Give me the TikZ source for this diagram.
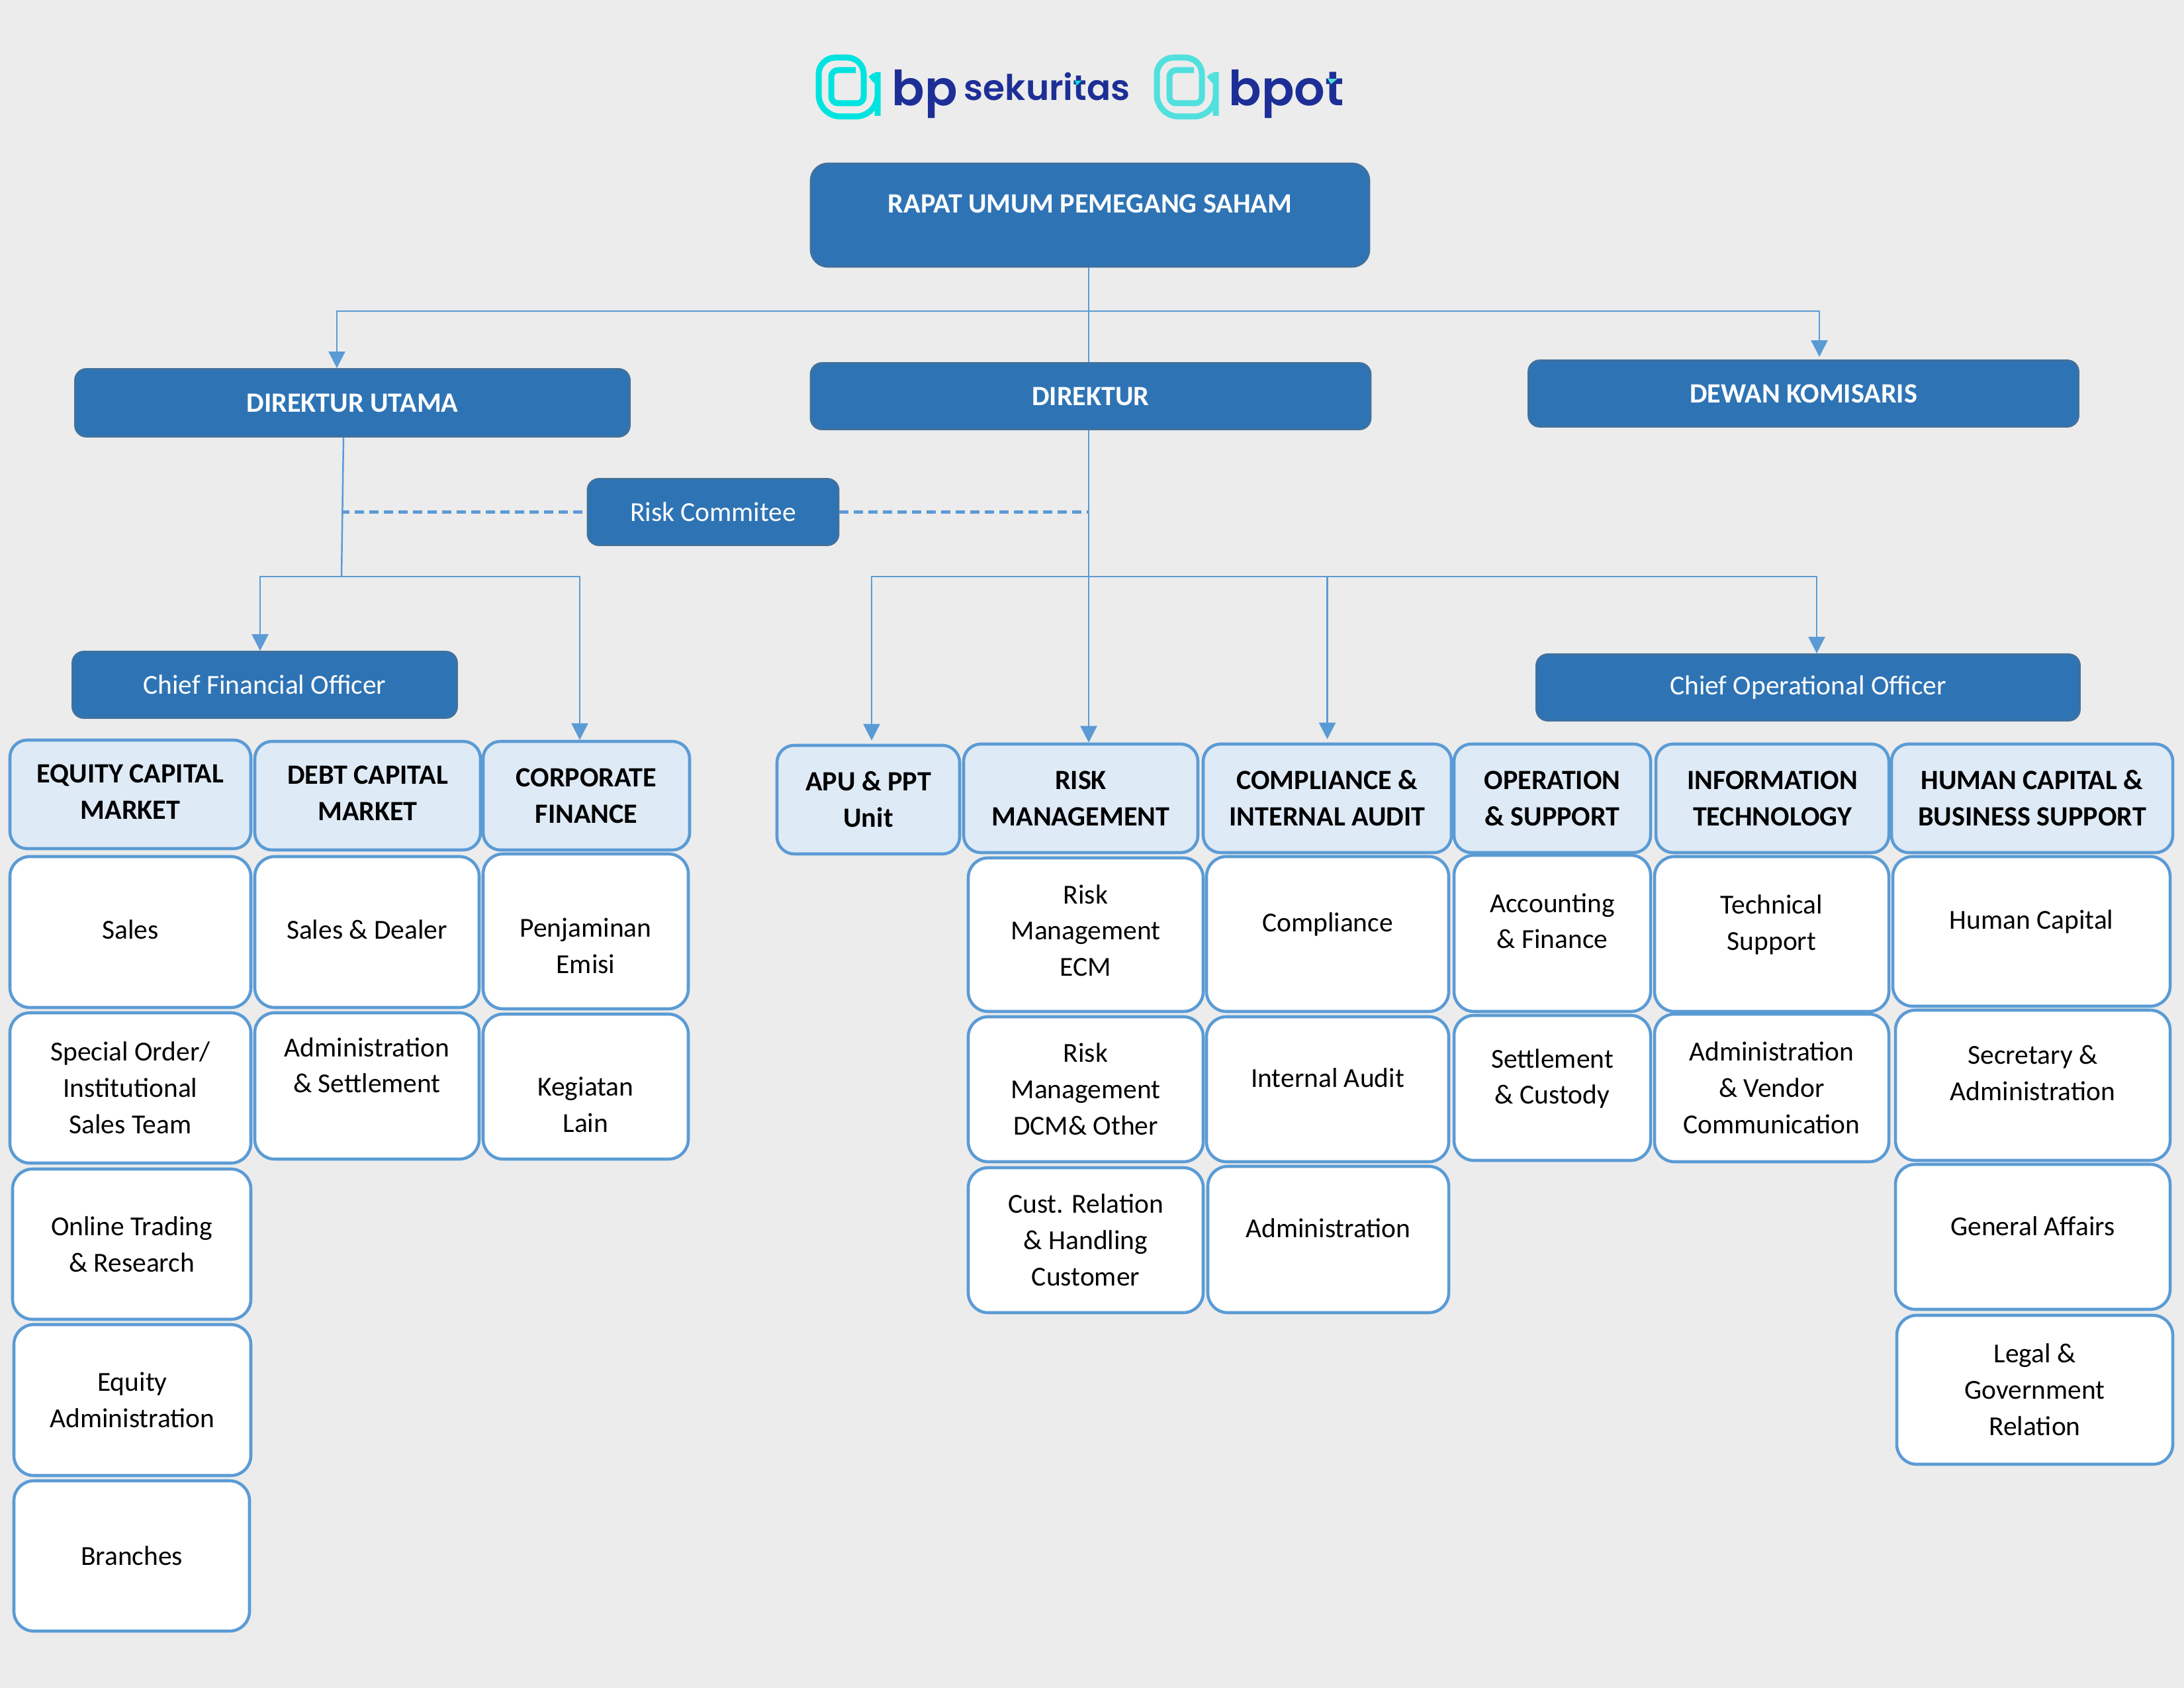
\documentclass[tikz,border=0pt]{standalone}
\usepackage{fontspec}
\setmainfont{Carlito}
\newfontfamily\logofont{Poppins}[UprightFont=* SemiBold]
\definecolor{orgblue}{HTML}{2E74B5}
\definecolor{orgedge}{HTML}{41719C}
\definecolor{orgline}{HTML}{5B9BD5}
\definecolor{orglight}{HTML}{DEEAF6}
\definecolor{orgpage}{HTML}{ECECEC}
\definecolor{logonavy}{HTML}{1D2F96}
\definecolor{logoteal}{HTML}{00E3DF}
\definecolor{logosoft}{HTML}{50E0DE}
\usepackage{tikz}
\usetikzlibrary{arrows.meta, positioning}

\begin{document}
\begin{tikzpicture}[
        x=1cm, y=-1cm,
        orgfont/.style={font=\fontsize{11.8}{15.6}\selectfont, align=center, inner sep=1pt},
        size/.style 2 args={minimum width=#1cm, minimum height=#2cm},
        lead/.style={rectangle, rounded corners=0.17cm, fill=orgblue, draw=orgedge,
                     line width=0.8pt, text=white, orgfont},
        leadbold/.style={lead, font=\fontsize{12}{15.6}\selectfont\bfseries},
        head/.style={rectangle, rounded corners=0.26cm, fill=orglight, draw=orgline,
                     line width=1.3pt, orgfont, font=\fontsize{12}{15.6}\selectfont\bfseries},
        unit/.style={rectangle, rounded corners=0.3cm, fill=white, draw=orgline,
                     line width=1.3pt, orgfont},
        link/.style={orgline, line width=0.7pt},
        arrowlink/.style={link, -{Triangle[length=0.25cm, width=0.25cm]}},
        dashlink/.style={orgline, line width=1.3pt, dash pattern=on 0.14cm off 0.08cm},
        logotext/.style={anchor=base west, inner sep=0pt, text=logonavy},
        logomark/.pic={
          \draw[line width=0.09cm, line cap=butt, rounded corners=0.1cm]
            (0.73,0.36) -- (0.36,0.36) -- (0.36,0.86) -- (0.85,0.86)
            [rounded corners=0.25cm] -- (0.85,0.17) -- (0.17,0.17)
            [rounded corners=0.33cm] -- (0.17,1.06) -- (1.06,1.06) -- (1.06,0.72)
            [sharp corners] .. controls (1.06,0.6) and (1.02,0.5) .. (0.96,0.43);
        }
      ]
        \fill[orgpage] (0,0) rectangle (33,25.5);
        % Logos
        \pic[logoteal] at (12.2,0.7) {logomark};
        \pic[logosoft] at (17.31,0.7) {logomark};
        \node[logotext, font=\logofont\fontsize{20.8}{24}\selectfont] (bpword) at (13.47,1.6) {bp};
        \node[logotext, font=\logofont\fontsize{15.2}{18}\selectfont] (sekword) at (14.56,1.52) {sekuritas};
        \node[logotext, font=\logofont\fontsize{20.8}{24}\selectfont] (bpotword) at (18.56,1.6) {bpot};
        \fill[logoteal] (16.24,1.22) -- (16.34,1.22) -- (16.27,1.29) -- cycle;
        \fill[logosoft] (20.06,1.19) -- (20.21,1.19) -- (20.11,1.27) -- cycle;
        % Top levels
        \node[lead, rounded corners=0.26cm, font=\fontsize{12}{15.6}\selectfont\bfseries, size={8.44}{1.56}] (rups) at (16.47,3.25)
          {RAPAT UMUM PEMEGANG SAHAM\\[-0.2cm]\mbox{}};
        \node[leadbold, size={8.38}{1.02}] (dirut) at (5.325,6.085) {DIREKTUR UTAMA};
        \node[leadbold, size={8.46}{1.0}] (direktur) at (16.48,5.985) {DIREKTUR};
        \node[leadbold, size={8.31}{1.0}] (dewan) at (27.25,5.945) {DEWAN KOMISARIS};
        \node[lead, size={3.79}{1.0}] (riskcom) at (10.775,7.735) {Risk Commitee};
        \node[lead, size={5.81}{1.0}] (cfo) at (4.0,10.345) {Chief Financial Officer};
        \node[lead, size={8.21}{1.0}] (coo) at (27.32,10.385) {Chief Operational Officer};
        % Division heads
        \node[head, size={3.64}{1.64}] (ecm) at (1.97,12.0) {EQUITY CAPITAL\\MARKET\\[-0.47cm]\mbox{}};
        \node[head, size={3.41}{1.64}] (dcm) at (5.555,12.02) {DEBT CAPITAL\\MARKET\\[-0.47cm]\mbox{}};
        \node[head, size={3.12}{1.64}] (corfin) at (8.86,12.02) {CORPORATE\\FINANCE};
        \node[head, size={2.76}{1.64}] (apu) at (13.12,12.08) {APU \& PPT\\Unit};
        \node[head, size={3.54}{1.64}] (riskmgmt) at (16.33,12.06) {RISK\\MANAGEMENT};
        \node[head, size={3.75}{1.64}] (compaudit) at (20.055,12.06) {COMPLIANCE \&\\INTERNAL AUDIT};
        \node[head, size={2.97}{1.64}] (ops) at (23.455,12.06) {OPERATION\\\& SUPPORT};
        \node[head, size={3.52}{1.64}] (infotech) at (26.78,12.06) {INFORMATION\\TECHNOLOGY};
        \node[head, size={4.25}{1.64}] (humancap) at (30.705,12.06) {HUMAN CAPITAL \&\\BUSINESS SUPPORT};
        % Equity capital market
        \node[unit, size={3.64}{2.28}] (sales) at (1.97,14.08) {Sales\\[-0.47cm]\mbox{}};
        \node[unit, size={3.64}{2.27}] (special) at (1.97,16.435) {Special Order/\\Institutional\\Sales Team};
        \node[unit, size={3.6}{2.27}] (online) at (1.99,18.795) {Online Trading\\\& Research};
        \node[unit, size={3.58}{2.28}] (equityadm) at (2.0,21.15) {Equity\\Administration};
        \node[unit, size={3.56}{2.27}] (branches) at (1.99,23.505) {Branches};
        % Debt capital market
        \node[unit, size={3.39}{2.28}] (dealer) at (5.545,14.08) {Sales \& Dealer\\[-0.47cm]\mbox{}};
        \node[unit, size={3.39}{2.21}] (settleadm) at (5.545,16.405) {Administration\\\& Settlement\\[0.08cm]\mbox{}};
        % Corporate finance
        \node[unit, size={3.1}{2.34}] (emisi) at (8.85,14.07) {\mbox{}\\[0.18cm]Penjaminan\\Emisi};
        \node[unit, size={3.1}{2.19}] (kegiatan) at (8.85,16.415) {\mbox{}\\[0.29cm]Kegiatan\\Lain};
        % Risk management
        \node[unit, size={3.55}{2.32}] (riskecm) at (16.405,14.12) {Risk\\Management\\ECM\\[-0.42cm]\mbox{}};
        \node[unit, size={3.55}{2.19}] (riskdcm) at (16.405,16.455) {Risk\\Management\\DCM\& Other};
        \node[unit, size={3.55}{2.19}] (custrel) at (16.405,18.735) {Cust. Relation\\\& Handling\\Customer};
        % Compliance and internal audit
        \node[unit, size={3.66}{2.34}] (compliance) at (20.06,14.11) {Compliance\\[-0.2cm]\mbox{}};
        \node[unit, size={3.66}{2.19}] (audit) at (20.06,16.455) {Internal Audit\\[-0.2cm]\mbox{}};
        \node[unit, size={3.64}{2.21}] (compadm) at (20.07,18.725) {Administration\\[-0.2cm]\mbox{}};
        % Operation and support
        \node[unit, size={2.97}{2.36}] (accounting) at (23.455,14.10) {Accounting\\\& Finance\\[-0.17cm]\mbox{}};
        \node[unit, size={2.97}{2.19}] (custody) at (23.455,16.435) {Settlement\\\& Custody\\[-0.2cm]\mbox{}};
        % Information technology
        \node[unit, size={3.54}{2.34}] (techsup) at (26.77,14.11) {Technical\\Support\\[-0.2cm]\mbox{}};
        \node[unit, size={3.54}{2.23}] (vendor) at (26.77,16.435) {Administration\\\& Vendor\\Communication};
        % Human capital and business support
        \node[unit, size={4.19}{2.26}] (hcunit) at (30.695,14.07) {Human Capital\\[-0.2cm]\mbox{}};
        \node[unit, size={4.15}{2.27}] (secretary) at (30.715,16.395) {Secretary \&\\Administration\\[-0.17cm]\mbox{}};
        \node[unit, size={4.15}{2.19}] (affairs) at (30.715,18.685) {General Affairs\\[-0.22cm]\mbox{}};
        \node[unit, size={4.17}{2.25}] (legal) at (30.745,20.995) {Legal \&\\Government\\Relation};
        % Connections: top
        \coordinate (splittop) at (16.45,4.70);
        \draw[link] (rups.south -| splittop) -- (direktur.north -| splittop);
        \draw[arrowlink] (splittop) -| ([xshift=-0.235cm]dirut.north);
        \draw[arrowlink] (splittop) -| ([xshift=0.24cm, yshift=0.04cm]dewan.north);
        % Connections: left branch
        \coordinate (splitleft) at (5.16,8.71);
        \draw[link] ([xshift=-0.135cm]dirut.south) -- (splitleft);
        \draw[arrowlink] (splitleft) -| ([xshift=-0.07cm]cfo.north);
        \draw[arrowlink] (splitleft) -| ([xshift=-0.1cm]corfin.north);
        % Connections: right branch
        \coordinate (splitright) at (16.45,8.71);
        \draw[arrowlink] (direktur.south -| splitright) -- (riskmgmt.north -| splitright);
        \draw[arrowlink] (splitright) -| ([xshift=0.05cm, yshift=0.05cm]apu.north);
        \draw[arrowlink] (splitright) -| ([yshift=0.05cm]compaudit.north);
        \draw[arrowlink] (splitright) -| ([xshift=0.13cm]coo.north);
        % Risk committee
        \draw[dashlink] ([xshift=-0.07cm]riskcom.west) -- (riskcom.west -| splitleft);
        \draw[dashlink] (riskcom.east) -- (riskcom.east -| splitright);
      \end{tikzpicture}
\end{document}
